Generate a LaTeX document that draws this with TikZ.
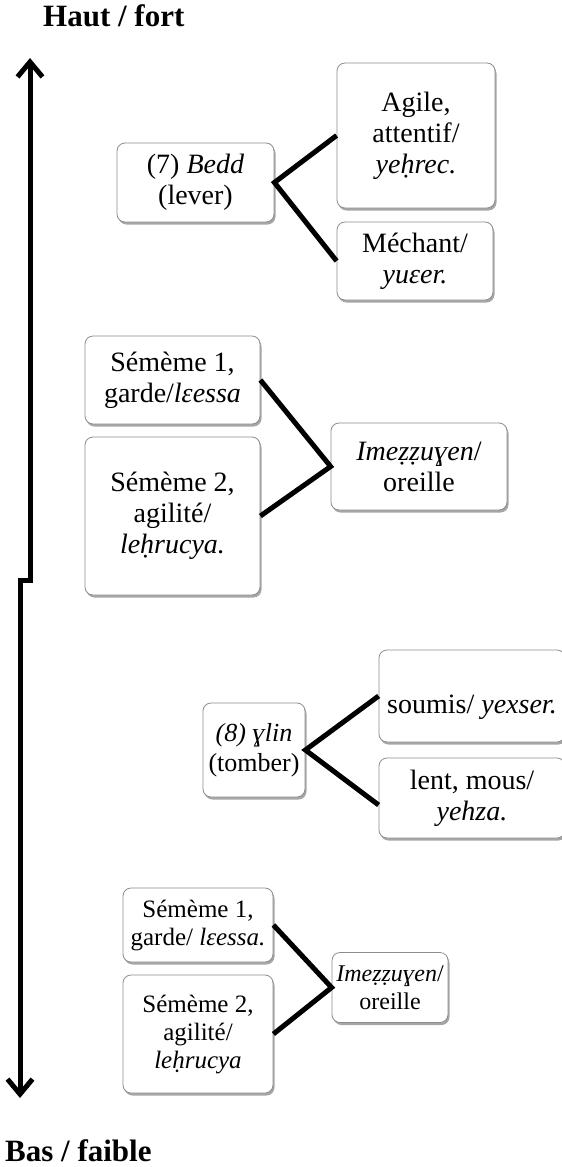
\documentclass[tikz,border=0pt]{standalone}
\usepackage{fontspec}
\setmainfont{Liberation Serif}
\usetikzlibrary{arrows.meta,shadows}
\tikzset{
  box/.style={draw=black!45, line width=0.8pt, rounded corners=8pt, fill=white,
    align=center, inner sep=2pt, font=\fontsize{28}{31}\selectfont,
    drop shadow={shadow xshift=1.5pt, shadow yshift=-2.5pt, fill=black, opacity=0.35}},
  smallbox/.style={box, font=\fontsize{25}{28}\selectfont},
  link/.style={line width=5pt, line cap=butt},
  axisline/.style={line width=5pt, line join=miter,
    {Straight Barb[length=15pt,width=25pt]}-{Straight Barb[length=15pt,width=25pt]}},
  pole/.style={inner sep=0pt, font=\fontsize{31}{36}\selectfont\bfseries}
}
\begin{document}
\begin{tikzpicture}[x=1pt,y=-1pt]
\useasboundingbox (0,0) rectangle (562,1167);

% titles
\node[pole, anchor=base west] (haut) at (43,27) {Haut / fort};
\node[pole, anchor=base west] (bas) at (5,1161) {Bas / faible};

% axis
\coordinate (atop) at (30,58);
\coordinate (j1) at (30,580);
\coordinate (j2) at (20,580);
\coordinate (abot) at (20,1098);
\draw[axisline] (atop) -- (j1) -- (j2) -- (abot);

% block 1
\node[box, minimum width=157pt, minimum height=79pt] (b7) at (195.5,182.5) {(7) \textit{Bedd}\\(lever)};
\node[box, minimum width=158pt, minimum height=145pt] (agile) at (416,135.5) {Agile,\\attentif/\\\textit{yeḥrec.}};
\node[box, minimum width=156pt, minimum height=78pt] (mech) at (415,261) {Méchant/\\\textit{yuɛer.}};
\draw[link] (agile.west) -- (b7.east) -- (mech.west);

% block 2
\node[box, minimum width=175pt, minimum height=88pt] (s1a) at (172.5,380) {Sémème 1,\\garde/\textit{lɛessa}};
\node[box, minimum width=175pt, minimum height=158pt] (s2a) at (172.5,516) {Sémème 2,\\agilité/\\\textit{leḥrucya.}};
\node[box, minimum width=176pt, minimum height=87pt] (ima) at (419,466.5) {\textit{Imeẓẓuɣen}/\\oreille};
\draw[link] (s1a.east) -- (ima.west) -- (s2a.east);

% block 3
\node[box, font=\fontsize{26}{30}\selectfont, minimum width=102pt, minimum height=94pt] (b8) at (254,750) {\textit{(8) ɣlin}\\(tomber)};
\node[box, minimum width=186pt, minimum height=92pt] (soumis) at (472,696) {\raisebox{-17pt}[0pt][0pt]{soumis/ \textit{yexser.}}};
\node[box, minimum width=186pt, minimum height=80pt] (lent) at (472,798) {lent, mous/\\\textit{yehza.}};
\draw[link] (soumis.west) -- (b8.east) -- ([yshift=-7pt]lent.west);

% block 4
\node[smallbox, minimum width=150pt, minimum height=74pt] (s1b) at (198,925) {Sémème 1,\\garde/ \textit{lɛessa.}};
\node[smallbox, minimum width=150pt, minimum height=118pt] (s2b) at (198,1034) {Sémème 2,\\agilité/\\\textit{leḥrucya}};
\node[box, font=\fontsize{24}{28}\selectfont, minimum width=116pt, minimum height=70pt] (imb) at (390,987.5) {\textit{Imeẓẓuɣen}/\\oreille};
\draw[link] (s1b.east) -- (imb.west) -- (s2b.east);
\end{tikzpicture}
\end{document}
